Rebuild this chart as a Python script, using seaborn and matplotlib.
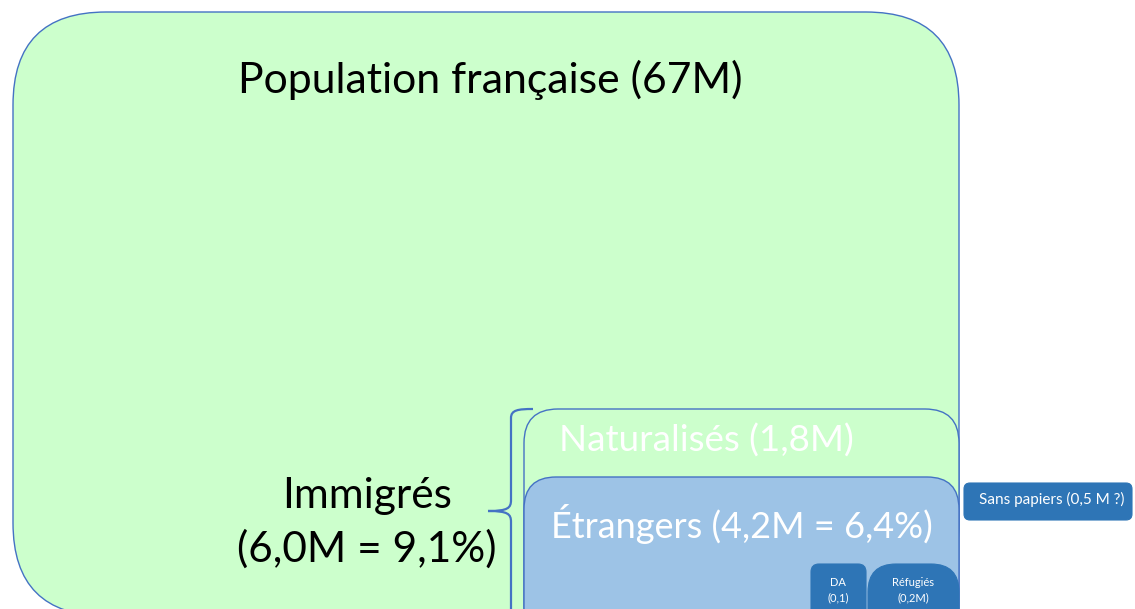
import matplotlib
matplotlib.use("Agg")
import matplotlib.pyplot as plt
import seaborn as sns
from matplotlib.patches import FancyBboxPatch, PathPatch
from matplotlib.path import Path

# ---- data ----
categories = ["Population française", "Immigrés", "Naturalisés", "Étrangers",
              "DA", "Réfugiés", "Sans papiers"]
values_m = ["67M", "6,0M", "1,8M", "4,2M", "0,1", "0,2M", "0,5 M ?"]
shares_pct = [None, "9,1%", None, "6,4%", None, None, None]

# ---- layout (pixel-like coordinates, y downwards) ----
W, H = 1135, 609
green = "#CCFFCC"
edge = "#4472C4"
light_blue = "#9DC3E6"
dark_blue = "#2E75B6"

sns.set_theme(style="white")
plt.rcParams["font.family"] = ["Lato", "DejaVu Sans"]

fig = plt.figure(figsize=(W / 100, H / 100), dpi=100)
ax = fig.add_axes([0, 0, 1, 1])
ax.set_xlim(0, W)
ax.set_ylim(H, 0)
ax.set_aspect("equal")
ax.axis("off")


def rbox(x0, y0, x1, y1, r, fc, ec, lw=1.0, z=1):
    p = FancyBboxPatch((x0, y0), x1 - x0, y1 - y0,
                       boxstyle=f"round,pad=0,rounding_size={r}",
                       fc=fc, ec=ec, lw=lw, zorder=z)
    ax.add_patch(p)


# population box
rbox(13, 12, 959, 616, 93, green, edge, 1.0, 1)
# naturalises box
rbox(524, 409, 959, 640, 34, green, edge, 1.0, 2)
# etrangers box
rbox(524, 477, 959, 640, 32, light_blue, edge, 1.0, 3)
# DA box
rbox(811, 564, 866, 640, 8, dark_blue, dark_blue, 0.8, 4)
# refugies box
rbox(868, 564, 959, 640, 28, dark_blue, dark_blue, 0.8, 4)
# sans papiers box
rbox(964, 483, 1132, 520, 6, dark_blue, dark_blue, 0.8, 4)

# brace
verts = [(533, 409), (518, 409), (511, 410), (511, 418),
         (511, 500),
         (511, 508), (508, 511), (488, 511),
         (508, 511), (511, 514), (511, 522),
         (511, 640)]
codes = [Path.MOVETO, Path.CURVE4, Path.CURVE4, Path.CURVE4,
         Path.LINETO,
         Path.CURVE4, Path.CURVE4, Path.CURVE4,
         Path.CURVE4, Path.CURVE4, Path.CURVE4,
         Path.LINETO]
ax.add_patch(PathPatch(Path(verts, codes), fc="none", ec=edge, lw=1.6, zorder=5))

# texts
ax.text(490, 93, f"{categories[0]} ({values_m[0]})", ha="center", va="baseline",
        fontsize=30.8, color="black", zorder=6)
ax.text(367, 508, categories[1], ha="center", va="baseline",
        fontsize=30.5, color="black", zorder=6)
ax.text(367, 562, f"({values_m[1]} = {shares_pct[1]})", ha="center", va="baseline",
        fontsize=30.5, color="black", zorder=6)
ax.text(706, 452, f"{categories[2]} ({values_m[2]})", ha="center", va="baseline",
        fontsize=26.5, color="white", zorder=6)
ax.text(742, 538, f"{categories[3]} ({values_m[3]} = {shares_pct[3]})", ha="center",
        va="baseline", fontsize=26, color="white", zorder=6)
ax.text(838, 583, categories[4], ha="center", va="center", fontsize=8,
        color="white", zorder=6)
ax.text(838, 598, f"({values_m[4]})", ha="center", va="center", fontsize=8,
        color="white", zorder=6)
ax.text(913, 583, categories[5], ha="center", va="center", fontsize=8,
        color="white", zorder=6)
ax.text(913, 598, f"({values_m[5]})", ha="center", va="center", fontsize=8,
        color="white", zorder=6)
ax.text(1052, 504, f"{categories[6]} ({values_m[6]})", ha="center", va="baseline",
        fontsize=11, color="white", zorder=6)

fig.savefig("out.png", dpi=100, facecolor="white")
